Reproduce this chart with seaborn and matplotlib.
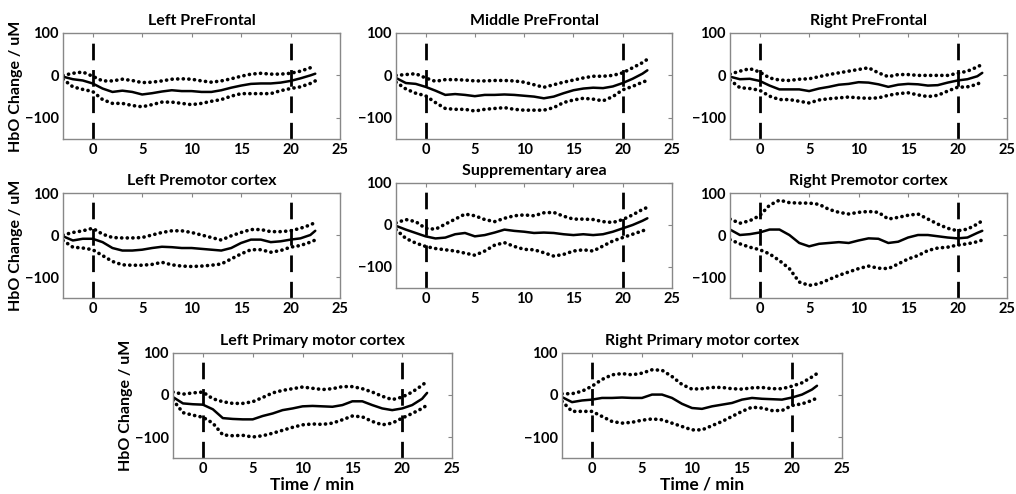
import matplotlib
matplotlib.use("Agg")
import matplotlib.pyplot as plt
import pandas as pd
import numpy as np
import seaborn as sns

time = [-3, -2, -1, 0, 1, 2, 3, 4, 5, 6, 7, 8, 9, 10, 11, 12, 13, 14, 15, 16, 17, 18, 19, 20, 21, 22, 22.5]

titles = ['Left PreFrontal', 'Middle PreFrontal', 'Right PreFrontal',
          'Left Premotor cortex', 'Supprementary area', 'Right Premotor cortex',
          'Left Primary motor cortex', 'Right Primary motor cortex']

# mean HbO curves
mean_lpf = [-3, -9, -12, -19, -31, -39, -36, -39, -45, -42, -38, -35, -37, -37, -39, -39, -35, -29, -24, -20, -19, -19, -17, -13, -7, 0, 4]
mean_mpf = [-6, -18, -20, -27, -36, -46, -44, -46, -49, -46, -46, -45, -46, -48, -50, -54, -50, -42, -35, -31, -29, -30, -26, -18, -8, 4, 12]
mean_rpf = [-3, -9, -8, -13, -24, -33, -33, -33, -37, -31, -27, -22, -20, -16, -17, -21, -27, -22, -20, -21, -24, -23, -17, -12, -9, -2, 6]
mean_lpm = [-3, -13, -9, -9, -17, -31, -37, -37, -35, -31, -28, -29, -31, -31, -33, -35, -37, -31, -19, -11, -11, -17, -15, -11, -8, 0, 10]
mean_sma = [-2, -11, -19, -27, -32, -30, -22, -19, -27, -24, -18, -11, -14, -16, -19, -18, -19, -22, -24, -22, -24, -22, -16, -8, 0, 10, 16]
mean_rpm = [13, 0, 2, 6, 13, 13, 0, -19, -27, -21, -19, -17, -19, -13, -8, -9, -19, -16, -6, 0, 0, -3, -6, -8, -6, 5, 10]
mean_lm1 = [-5, -20, -22, -23, -34, -55, -57, -58, -58, -50, -44, -36, -32, -27, -26, -27, -28, -24, -15, -15, -24, -32, -36, -32, -24, -9, 5]
mean_rm1 = [-5, -17, -13, -11, -7, -7, -6, -7, -7, 1, 1, -7, -21, -31, -33, -27, -23, -19, -11, -7, -9, -10, -11, -6, 1, 13, 22]

# upper bound (dotted)
up_lpf = [0, 5, 8, -2, -13, -13, -9, -12, -17, -16, -13, -9, -8, -9, -13, -16, -13, -8, -2, 3, 5, 3, 3, 5, 10, 18, 22]
up_mpf = [0, 2, 4, -6, -14, -10, -10, -11, -13, -13, -12, -12, -13, -16, -22, -28, -22, -16, -11, -6, -2, -2, 0, 6, 18, 30, 38]
up_rpf = [3, 10, 16, 8, -6, -11, -12, -9, -8, -3, 2, 6, 10, 14, 18, 6, -3, 2, 2, 0, 0, 0, 0, 5, 10, 20, 26]
up_lpm = [0, 6, 10, 16, 2, -6, -7, -7, -6, 0, 6, 10, 10, 6, 0, -6, -12, -2, 6, 13, 13, 8, 8, 10, 16, 24, 30]
up_sma = [5, 13, 8, -8, -10, 2, 14, 26, 22, 13, 8, 16, 22, 24, 22, 29, 30, 21, 14, 14, 13, 8, 6, 13, 24, 37, 42]
up_rpm = [38, 28, 34, 46, 71, 83, 77, 76, 76, 73, 61, 54, 50, 54, 56, 54, 38, 42, 47, 50, 38, 26, 16, 10, 14, 26, 34]
up_lm1 = [7, 2, 5, 7, -9, -16, -20, -20, -16, -6, 5, 11, 15, 19, 16, 13, 15, 20, 20, 15, 7, -3, -11, -5, 7, 23, 33]
up_rm1 = [3, 3, 9, 21, 37, 48, 51, 48, 52, 60, 59, 44, 25, 14, 15, 18, 18, 15, 14, 17, 18, 15, 15, 21, 29, 43, 51]

# lower bound (dotted)
lo_lpf = [-9, -27, -33, -38, -57, -66, -66, -71, -74, -69, -63, -63, -66, -69, -66, -61, -57, -49, -43, -43, -43, -43, -36, -31, -27, -19, -13]
lo_mpf = [-16, -32, -42, -48, -64, -78, -80, -80, -84, -80, -78, -76, -80, -82, -82, -82, -76, -64, -58, -54, -56, -60, -50, -34, -26, -16, -12]
lo_rpf = [-11, -29, -31, -35, -49, -57, -57, -61, -65, -58, -55, -53, -51, -53, -54, -53, -47, -43, -41, -46, -50, -47, -37, -28, -27, -21, -13]
lo_lpm = [-13, -29, -31, -35, -49, -63, -71, -72, -72, -70, -65, -71, -74, -75, -74, -72, -69, -57, -45, -35, -35, -41, -37, -29, -25, -17, -12]
lo_sma = [-11, -32, -43, -51, -56, -59, -62, -67, -72, -62, -48, -42, -51, -58, -59, -66, -74, -70, -62, -59, -62, -50, -38, -30, -22, -14, -10]
lo_rpm = [-11, -21, -29, -35, -45, -61, -80, -112, -120, -116, -106, -96, -88, -80, -74, -79, -80, -69, -57, -49, -37, -31, -29, -24, -21, -16, -12]
lo_lm1 = [-12, -42, -48, -53, -67, -95, -97, -96, -100, -97, -91, -84, -77, -71, -69, -70, -67, -59, -50, -52, -63, -71, -67, -55, -44, -32, -24]
lo_rm1 = [-15, -39, -39, -39, -51, -63, -67, -65, -60, -57, -59, -67, -75, -83, -83, -73, -63, -51, -39, -29, -31, -37, -37, -25, -21, -13, -7]

means = [mean_lpf, mean_mpf, mean_rpf, mean_lpm, mean_sma, mean_rpm, mean_lm1, mean_rm1]
uppers = [up_lpf, up_mpf, up_rpf, up_lpm, up_sma, up_rpm, up_lm1, up_rm1]
lowers = [lo_lpf, lo_mpf, lo_rpf, lo_lpm, lo_sma, lo_rpm, lo_lm1, lo_rm1]

sns.set_style("white")
plt.rcParams['font.family'] = ['Lato', 'DejaVu Sans']
plt.rcParams['font.weight'] = 'bold'
plt.rcParams['text.color'] = 'black'
plt.rcParams['axes.labelcolor'] = 'black'

W, H = 1016, 494
# panel boxes in pixels: left, right, top, bottom
boxes = [(63, 340, 33, 139), (396, 672, 33, 139), (730, 1007, 33, 139),
         (63, 340, 193, 298), (396, 672, 183, 288), (730, 1007, 193, 298),
         (173, 452, 353, 458), (562, 842, 353, 458)]

fig = plt.figure(figsize=(W / 100, H / 100), dpi=100)
for i in range(8):
    l, r, t, b = boxes[i]
    ax = fig.add_axes([l / W, 1 - b / H, (r - l) / W, (b - t) / H])
    df = pd.DataFrame({'time': time, 'mean': means[i], 'up': uppers[i], 'lo': lowers[i]})
    sns.lineplot(data=df, x='time', y='mean', ax=ax, color='black', lw=1.8)
    for col in ['up', 'lo']:
        sns.lineplot(data=df, x='time', y=col, ax=ax, color='black', lw=2.6,
                     linestyle=(0, (0.05, 1.5)), dash_capstyle='round')
    for xv in [0, 20]:
        ax.axvline(xv, color='black', lw=2, linestyle=(0, (6, 3.5)))
    ax.set_xlim(-3, 25)
    ax.set_ylim(-150, 100)
    ax.set_xticks([0, 5, 10, 15, 20, 25])
    ax.set_yticks([-100, 0, 100])
    ax.tick_params(direction='in', length=3, width=0.8, top=True, right=True,
                   labelsize=10.5, pad=3, color='#888888', labelcolor='black')
    for s in ax.spines.values():
        s.set_color('#888888')
        s.set_linewidth(1)
    ax.set_title(titles[i], fontsize=11.5, fontweight='bold', pad=6, color='black')
    ax.set_xlabel('Time / min' if i >= 6 else '', fontsize=12.5, fontweight='bold', labelpad=0)
    if i in (0, 3, 6):
        ax.set_ylabel('HbO Change / uM', fontsize=11.5, fontweight='bold', labelpad=1)
    else:
        ax.set_ylabel('')

fig.savefig('out.png', dpi=100)
